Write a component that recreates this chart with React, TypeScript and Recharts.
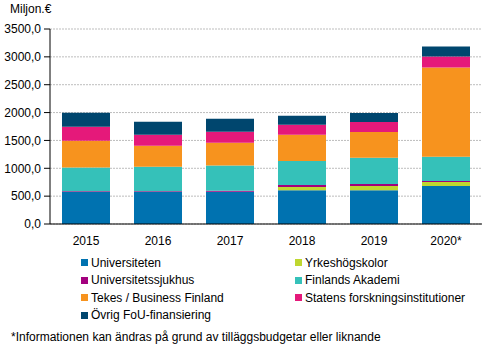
import { BarChart, Bar, XAxis, YAxis, CartesianGrid } from "recharts";

const YEARS = ["2015", "2016", "2017", "2018", "2019", "2020*"];

const UNIVERSITETEN = [575, 575, 580, 608, 608, 684];
const YRKESHOGSKOLOR = [0, 0, 0, 55, 72, 72];
const SJUKHUS = [15, 15, 15, 35, 36, 18];
const AKADEMI = [423, 436, 455, 434, 472, 432];
const TEKES = [481, 378, 408, 468, 462, 1602];
const STATENS = [252, 198, 198, 180, 180, 198];
const OVRIG = [252, 234, 234, 162, 162, 180];

const Y_TICKS = [0, 500, 1000, 1500, 2000, 2500, 3000, 3500];

const SERIES = [
  { key: "univ", name: "Universiteten", color: "#0072b0", values: UNIVERSITETEN },
  { key: "yrkes", name: "Yrkeshögskolor", color: "#bfd730", values: YRKESHOGSKOLOR },
  { key: "sjukhus", name: "Universitetssjukhus", color: "#a3007e", values: SJUKHUS },
  { key: "akademi", name: "Finlands Akademi", color: "#35c1b9", values: AKADEMI },
  { key: "tekes", name: "Tekes / Business Finland", color: "#f7931e", values: TEKES },
  { key: "statens", name: "Statens forskningsinstitutioner", color: "#e5197a", values: STATENS },
  { key: "ovrig", name: "Övrig FoU-finansiering", color: "#00466e", values: OVRIG },
];

const data = YEARS.map((year, i) => {
  const row: Record<string, string | number> = { year };
  SERIES.forEach((s) => {
    row[s.key] = s.values[i];
  });
  return row;
});

const FONT = "'Liberation Sans', Arial, sans-serif";

const fmt = (v: number) => `${v},0`;

export default function App() {
  return (
    <div
      style={{
        position: "absolute",
        left: 0,
        top: 0,
        width: 493,
        height: 352,
        background: "#fff",
        fontFamily: FONT,
        color: "#000",
      }}
    >
      <div style={{ position: "absolute", left: 10, top: 2, fontSize: 12 }}>
        Miljon.€
      </div>
      <BarChart
        width={493}
        height={352}
        data={data}
        margin={{ top: 29, right: 11, left: 0, bottom: 108 }}
        barSize={48}
      >
        <CartesianGrid
          vertical={false}
          stroke="#bdbdbd"
          strokeDasharray="2 1"
        />
        <XAxis
          dataKey="year"
          height={20}
          tickLine={false}
          tickSize={6}
          tickMargin={6}
          axisLine={{ stroke: "#000" }}
          tick={{ fill: "#000", fontSize: 12, fontFamily: FONT }}
        />
        <YAxis
          width={50}
          domain={[0, 3500]}
          ticks={Y_TICKS}
          interval={0}
          tickFormatter={fmt}
          tickSize={6}
          tickMargin={3}
          axisLine={{ stroke: "#000" }}
          tickLine={{ stroke: "#000" }}
          tick={{ fill: "#000", fontSize: 12, fontFamily: FONT }}
        />
        {SERIES.map((s) => (
          <Bar
            key={s.key}
            dataKey={s.key}
            name={s.name}
            stackId="a"
            fill={s.color}
            isAnimationActive={false}
          />
        ))}
      </BarChart>
      {SERIES.map((s, i) => {
        const col = i % 2;
        const row = Math.floor(i / 2);
        return (
          <div
            key={s.key}
            style={{
              position: "absolute",
              left: col === 0 ? 81 : 295,
              top: 254 + row * 17.6,
              height: 17,
              display: "flex",
              alignItems: "center",
              fontSize: 12,
              whiteSpace: "nowrap",
            }}
          >
            <span
              style={{
                display: "inline-block",
                width: 7,
                height: 7,
                background: s.color,
                marginRight: 3,
              }}
            />
            {s.name}
          </div>
        );
      })}
      <div
        style={{
          position: "absolute",
          left: 11,
          top: 330,
          fontSize: 12,
          whiteSpace: "nowrap",
        }}
      >
        *Informationen kan ändras på grund av tilläggsbudgetar eller liknande
      </div>
    </div>
  );
}
